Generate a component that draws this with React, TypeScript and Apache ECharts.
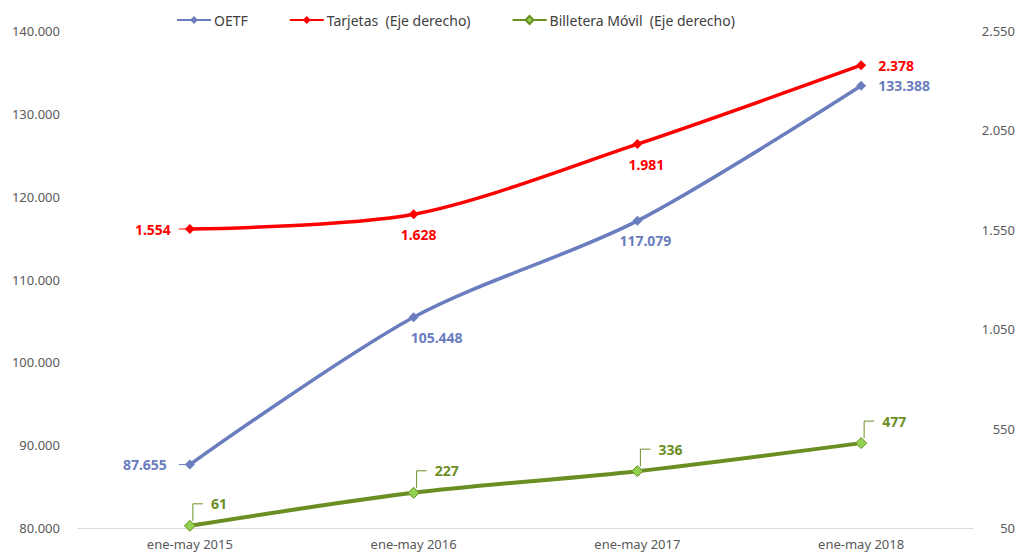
import React, { useEffect, useRef } from "react";
import * as echarts from "echarts";

const categories = ["ene-may 2015", "ene-may 2016", "ene-may 2017", "ene-may 2018"];
const oetf = [87655, 105448, 117079, 133388];
const tarjetas = [1554, 1628, 1981, 2378];
const billetera = [61, 227, 336, 477];

const fmt = (v: number) => v.toLocaleString("de-DE");
const FONT = "Noto Sans";
const GREEN = "#6B8E23";
const BLUE = "#6A7DBF";
const RED = "#FF0000";

const oetfLabelOffsets = [0, 23, 8, 0];
const tarjetasLabelOffsets = [0, 5, 9, 0];

export default function App() {
  const ref = useRef<HTMLDivElement>(null);
  useEffect(() => {
    const chart = echarts.init(ref.current!, null, { renderer: "svg" });
    const labelBase = { show: true, fontWeight: "bold" as const, fontSize: 14, fontFamily: FONT };
    const dash = (color: string, axis: number, value: number) => ({
      type: "custom",
      yAxisIndex: axis,
      z: 2,
      silent: true,
      data: [[0, value]],
      renderItem: (params: any, api: any) => {
        const p = api.coord([api.value(0), api.value(1)]);
        return {
          type: "line",
          shape: { x1: p[0] - 11, y1: p[1], x2: p[0] - 3, y2: p[1] },
          style: { stroke: color, lineWidth: 1 },
        };
      },
    });
    chart.setOption({
      animation: false,
      textStyle: { fontFamily: FONT },
      legend: {
        top: 8,
        left: 171,
        itemWidth: 34,
        itemHeight: 10,
        itemGap: 41,
        textStyle: { fontSize: 14, color: "#404040", fontFamily: FONT, padding: [0, 0, 0, -2] },
        data: ["OETF", "Tarjetas  (Eje derecho)", "Billetera Móvil  (Eje derecho)"],
      },
      grid: { left: 78, right: 55, top: 31, bottom: 28 },
      xAxis: {
        type: "category",
        data: categories,
        boundaryGap: true,
        axisLine: { lineStyle: { color: "#D9D9D9" } },
        axisTick: { show: false },
        axisLabel: { color: "#595959", fontSize: 13, margin: 9 },
      },
      yAxis: [
        {
          type: "value",
          min: 80000,
          max: 140000,
          interval: 10000,
          splitLine: { show: false },
          axisLabel: { color: "#595959", fontSize: 13, formatter: (v: number) => fmt(v), margin: 18 },
        },
        {
          type: "value",
          min: 50,
          max: 2550,
          interval: 500,
          splitLine: { show: false },
          axisLabel: { color: "#595959", fontSize: 13, formatter: (v: number) => fmt(v), margin: 42, align: "right" },
        },
      ],
      series: [
        {
          name: "OETF",
          type: "line",
          yAxisIndex: 0,
          smooth: 0.3,
          z: 3,
          data: oetf.map((v, i) => ({
            value: v,
            label: {
              position: i === 0 ? "left" : i === 3 ? "right" : "bottom",
              distance: i === 0 ? 18 : i === 3 ? 12 : 8,
              offset: [oetfLabelOffsets[i], 0],
            },
          })),
          symbol: "diamond",
          symbolSize: 10,
          lineStyle: { width: 3.5, color: BLUE },
          itemStyle: { color: BLUE },
          label: { ...labelBase, color: BLUE, formatter: (p: any) => fmt(p.value) },
        },
        {
          name: "Tarjetas  (Eje derecho)",
          type: "line",
          yAxisIndex: 1,
          smooth: 0.3,
          z: 3,
          data: tarjetas.map((v, i) => ({
            value: v,
            label: {
              position: i === 0 ? "left" : i === 3 ? "right" : "bottom",
              distance: i === 0 ? 14 : i === 3 ? 12 : 8,
              offset: [tarjetasLabelOffsets[i], 0],
            },
          })),
          symbol: "diamond",
          symbolSize: 10,
          lineStyle: { width: 3.5, color: RED },
          itemStyle: { color: RED },
          label: { ...labelBase, color: RED, formatter: (p: any) => fmt(p.value) },
        },
        {
          name: "Billetera Móvil  (Eje derecho)",
          type: "line",
          yAxisIndex: 1,
          smooth: 0.3,
          z: 3,
          data: billetera,
          symbol: "diamond",
          symbolSize: 11,
          lineStyle: { width: 4, color: GREEN },
          itemStyle: { color: "#92D050", borderColor: GREEN, borderWidth: 1 },
          label: { show: false },
        },
        {
          name: "callouts",
          type: "custom",
          yAxisIndex: 1,
          z: 4,
          silent: true,
          data: billetera.map((v, i) => [i, v]),
          renderItem: (params: any, api: any) => {
            const p = api.coord([api.value(0), api.value(1)]);
            const x = p[0];
            const y = p[1];
            return {
              type: "group",
              children: [
                {
                  type: "polyline",
                  shape: { points: [[x + 3, y - 5], [x + 3, y - 22], [x + 13, y - 22]] },
                  style: { stroke: GREEN, lineWidth: 1, fill: null },
                },
                {
                  type: "text",
                  x: x + 21,
                  y: y - 22,
                  style: {
                    text: fmt(api.value(1)),
                    fill: GREEN,
                    font: `bold 14px '${FONT}'`,
                    textAlign: "left",
                    textVerticalAlign: "middle",
                  },
                },
              ],
            };
          },
        },
        dash(BLUE, 0, oetf[0]),
        dash(RED, 1, tarjetas[0]),
      ],
    });
    return () => chart.dispose();
  }, []);
  return <div ref={ref} style={{ width: 1028, height: 556, position: "absolute", left: 0, top: 0 }} />;
}
